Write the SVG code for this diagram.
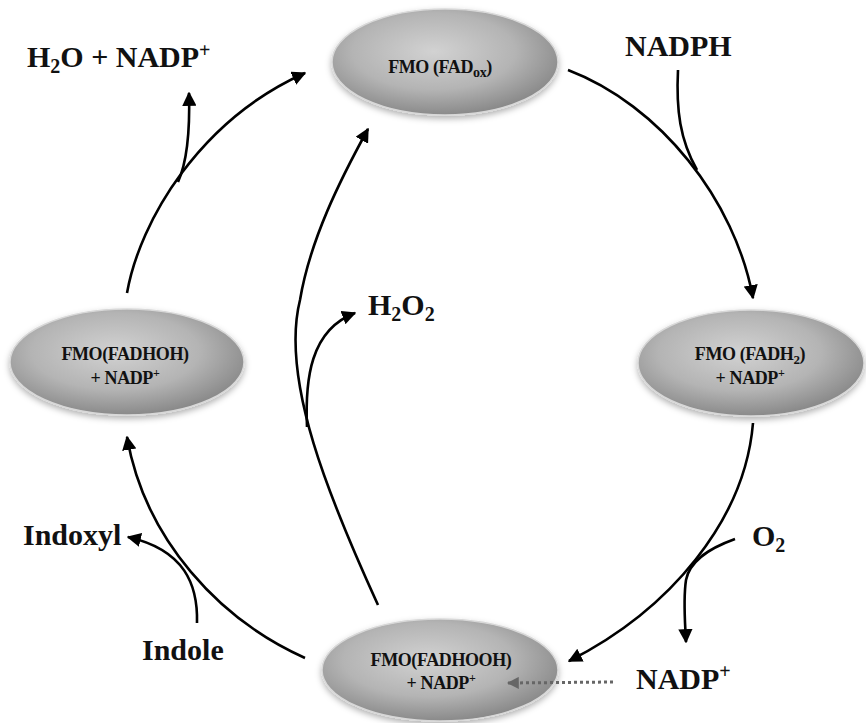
<svg xmlns="http://www.w3.org/2000/svg" width="866" height="723" viewBox="0 0 866 723">
  <style>
    .node { fill: url(#g); stroke: #d8d8d8; stroke-width: 1.5; filter: url(#sh); }
    .nt { font-family: "Liberation Serif", "Times New Roman", serif; font-weight: bold; font-size: 18px; letter-spacing: -0.4px; fill: #111; text-anchor: middle; }
    .lb { font-family: "Liberation Serif", "Times New Roman", serif; font-weight: bold; font-size: 30px; fill: #111; }
    .c { fill: none; stroke: #000; stroke-width: 2.6; }
    .d { fill: none; stroke: #666; stroke-width: 3; stroke-dasharray: 3 3; }
  </style>
  <defs>
    <radialGradient id="g" cx="0.45" cy="0.4" r="0.6">
      <stop offset="0" stop-color="#d2d2d2"/>
      <stop offset="0.6" stop-color="#b4b4b4"/>
      <stop offset="1" stop-color="#8a8a8a"/>
    </radialGradient>
    <filter id="sh" x="-20%" y="-20%" width="140%" height="150%">
      <feDropShadow dx="0" dy="3" stdDeviation="3" flood-color="#000" flood-opacity="0.3"/>
    </filter>
    <marker id="a" viewBox="0 0 10 10" refX="9" refY="5" markerWidth="5.5" markerHeight="5.5" orient="auto" markerUnits="strokeWidth">
      <path d="M0,0 L10,5 L0,10 z" fill="#000"/>
    </marker>
    <marker id="ag" viewBox="0 0 10 10" refX="9" refY="5" markerWidth="4" markerHeight="4" orient="auto" markerUnits="strokeWidth">
      <path d="M0,0 L10,5 L0,10 z" fill="#666"/>
    </marker>
  </defs>

  <g id="n-fadox">
    <ellipse class="node" cx="445" cy="62" rx="113" ry="53"/>
    <text class="nt" x="440" y="73">FMO (FAD<tspan font-size="14" dy="4">ox</tspan><tspan dy="-4">)</tspan></text>
  </g>
  <g id="n-fadh2">
    <ellipse class="node" cx="751" cy="363" rx="113" ry="53"/>
    <text class="nt" x="750" y="360">FMO (FADH<tspan font-size="13" dy="4">2</tspan><tspan dy="-4">)</tspan></text>
    <text class="nt" x="750" y="384">+ NADP<tspan font-size="12" dy="-7">+</tspan></text>
  </g>
  <g id="n-fadhooh">
    <ellipse class="node" cx="440" cy="670" rx="118" ry="51"/>
    <text class="nt" x="441" y="666">FMO(FADHOOH)</text>
    <text class="nt" x="441" y="689">+ NADP<tspan font-size="12" dy="-7">+</tspan></text>
  </g>
  <g id="n-fadhoh">
    <ellipse class="node" cx="127" cy="362" rx="117" ry="53"/>
    <text class="nt" x="125" y="360">FMO(FADHOH)</text>
    <text class="nt" x="125" y="384">+ NADP<tspan font-size="12" dy="-7">+</tspan></text>
  </g>

  <g id="connectors">
    <path class="c" d="M127,293 C140,220 200,120 305,73" marker-end="url(#a)"/>
    <path class="c" d="M178,182 C188,160 190,130 189,93" marker-end="url(#a)"/>
    <path class="c" d="M568,70 C660,105 735,200 753,298" marker-end="url(#a)"/>
    <path class="c" d="M678,70 C676,110 680,140 697,170"/>
    <path class="c" d="M753,423 C745,520 670,610 569,661" marker-end="url(#a)"/>
    <path class="c" d="M735,539 C710,548 690,560 686,580 C683,600 685,620 686,642" marker-end="url(#a)"/>
    <path class="c" d="M305,658 C220,620 145,540 127,437" marker-end="url(#a)"/>
    <path class="c" d="M197,623 C198,585 185,550 128,537" marker-end="url(#a)"/>
    <path class="c" d="M378,605 C330,500 280,380 300,300 C310,240 340,180 368,129" marker-end="url(#a)"/>
    <path class="c" d="M307,427 C305,380 310,330 355,313" marker-end="url(#a)"/>
    <path class="d" d="M613,682 L508,683" marker-end="url(#ag)"/>
  </g>

  <g id="labels">
    <text class="lb" x="27" y="67">H<tspan font-size="20" dy="6">2</tspan><tspan dy="-6">O + NADP</tspan><tspan font-size="20" dy="-10">+</tspan></text>
    <text class="lb" x="625" y="56">NADPH</text>
    <text class="lb" x="368" y="315">H<tspan font-size="20" dy="6">2</tspan><tspan dy="-6">O</tspan><tspan font-size="20" dy="6">2</tspan></text>
    <text class="lb" x="752" y="546">O<tspan font-size="20" dy="6">2</tspan></text>
    <text class="lb" x="23" y="545">Indoxyl</text>
    <text class="lb" x="142" y="660">Indole</text>
    <text class="lb" x="636" y="689">NADP<tspan font-size="20" dy="-11">+</tspan></text>
  </g>
</svg>
